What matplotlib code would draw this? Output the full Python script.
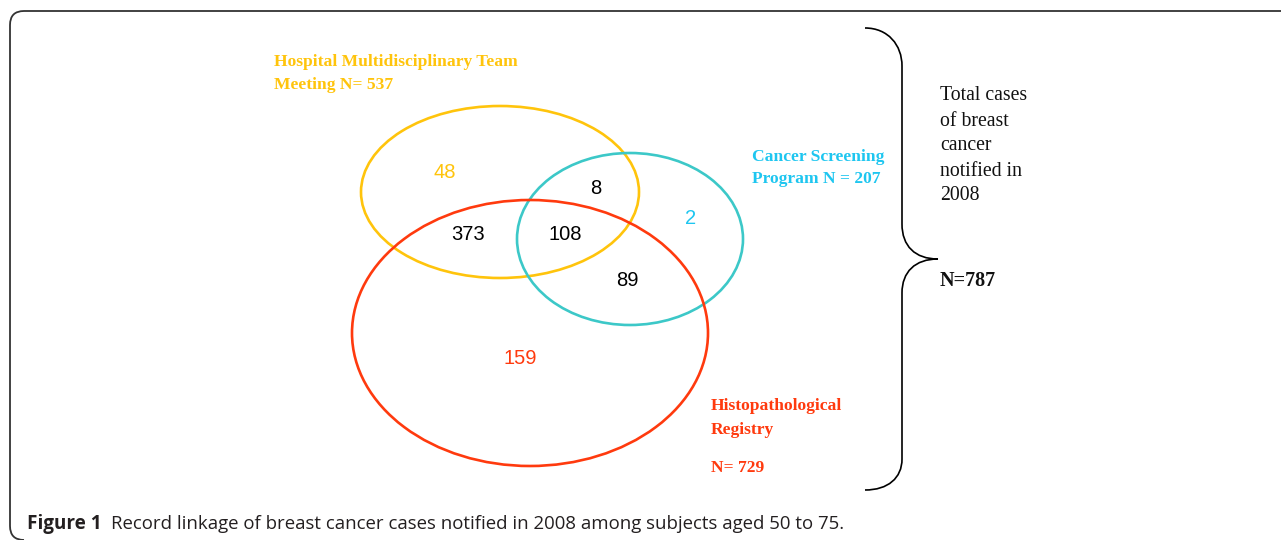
import matplotlib
matplotlib.use("Agg")
import matplotlib.pyplot as plt
from matplotlib.patches import Ellipse, PathPatch
from matplotlib.path import Path

# venn sets: label lines, colour, ellipse centre / width / height (pixel space)
set_labels = [["Hospital Multidisciplinary Team", "Meeting N= 537"],
              ["Cancer Screening", "Program N = 207"],
              ["Histopathological", "Registry", "N= 729"]]
label_pos = [[(274, 62), (274, 85)],
             [(752, 157), (752, 179)],
             [(711, 406), (711, 430), (711, 468)]]
ring_colors = ["#FFC40C", "#3CC8C8", "#FF3A0E"]
text_colors = ["#FFC40C", "#1EC6F0", "#FF3A0E"]
centers = [(500, 192), (630, 239), (530, 333)]
widths = [278, 226, 356]
heights = [172, 172, 266]

# region counts
region_counts = [48, 8, 2, 373, 108, 89, 159]
region_pos = [(445, 172), (596, 189), (691, 218), (468, 234), (565, 234), (627, 281), (520, 358)]
region_colors = ["#FFC40C", "black", "#1EC6F0", "black", "black", "black", "#FF3A0E"]

total_lines = ["Total cases", "of breast", "cancer", "notified in", "2008"]
total_y = [95, 121, 146, 171, 196]
total_n = 787

fig = plt.figure(figsize=(12.81, 5.4), dpi=100)
ax = fig.add_axes([0, 0, 1, 1])
ax.set_xlim(0, 1281)
ax.set_ylim(540, 0)
ax.axis("off")

# frame (rounded corners, runs off the right and bottom edges)
frame = Path([(1290, 11), (24, 11), (10, 11), (10, 25), (10, 526), (10, 540), (24, 540)],
             [Path.MOVETO, Path.LINETO, Path.CURVE3, Path.CURVE3, Path.LINETO,
              Path.CURVE3, Path.CURVE3])
ax.add_patch(PathPatch(frame, fill=False, edgecolor="#333333", linewidth=1.3))

for c, w, h, col in zip(centers, widths, heights, ring_colors):
    ax.add_patch(Ellipse(c, w, h, fill=False, edgecolor=col, linewidth=1.9))

for n, (x, y), col in zip(region_counts, region_pos, region_colors):
    ax.text(x, y, str(n), color=col, fontsize=14.5, ha="center", va="center",
            family="Liberation Sans")

for lines, pos, col in zip(set_labels, label_pos, text_colors):
    for s, (x, y) in zip(lines, pos):
        ax.text(x, y, s, color=col, family="Liberation Serif", fontweight="bold",
                fontsize=12.6, ha="left", va="center")

# curly brace
verts = [(865, 28), (888, 28), (902, 45), (902, 66),
         (902, 224),
         (902, 246), (915, 259), (938, 259),
         (915, 259), (902, 272), (902, 293),
         (902, 459),
         (902, 478), (888, 490), (865, 490)]
codes = [Path.MOVETO, Path.CURVE4, Path.CURVE4, Path.CURVE4,
         Path.LINETO,
         Path.CURVE4, Path.CURVE4, Path.CURVE4,
         Path.CURVE4, Path.CURVE4, Path.CURVE4,
         Path.LINETO,
         Path.CURVE4, Path.CURVE4, Path.CURVE4]
ax.add_patch(PathPatch(Path(verts, codes), fill=False, edgecolor="black", linewidth=1.2))

for s, y in zip(total_lines, total_y):
    ax.text(940, y, s, family="Liberation Serif", fontsize=14.2, ha="left", va="center",
            color="#111111")
ax.text(940, 281, "N=%d" % total_n, family="Liberation Serif", fontsize=14.5,
        fontweight="bold", ha="left", va="center", color="#111111")

# caption
ax.text(27, 524, "Figure 1", family="Open Sans", fontweight="bold", fontsize=13.6,
        ha="left", va="center", color="#231F20")
ax.text(111, 524, "Record linkage of breast cancer cases notified in 2008 among subjects aged 50 to 75.",
        family="Open Sans", fontsize=13.4, ha="left", va="center", color="#231F20")

fig.savefig("out.png", dpi=100)
